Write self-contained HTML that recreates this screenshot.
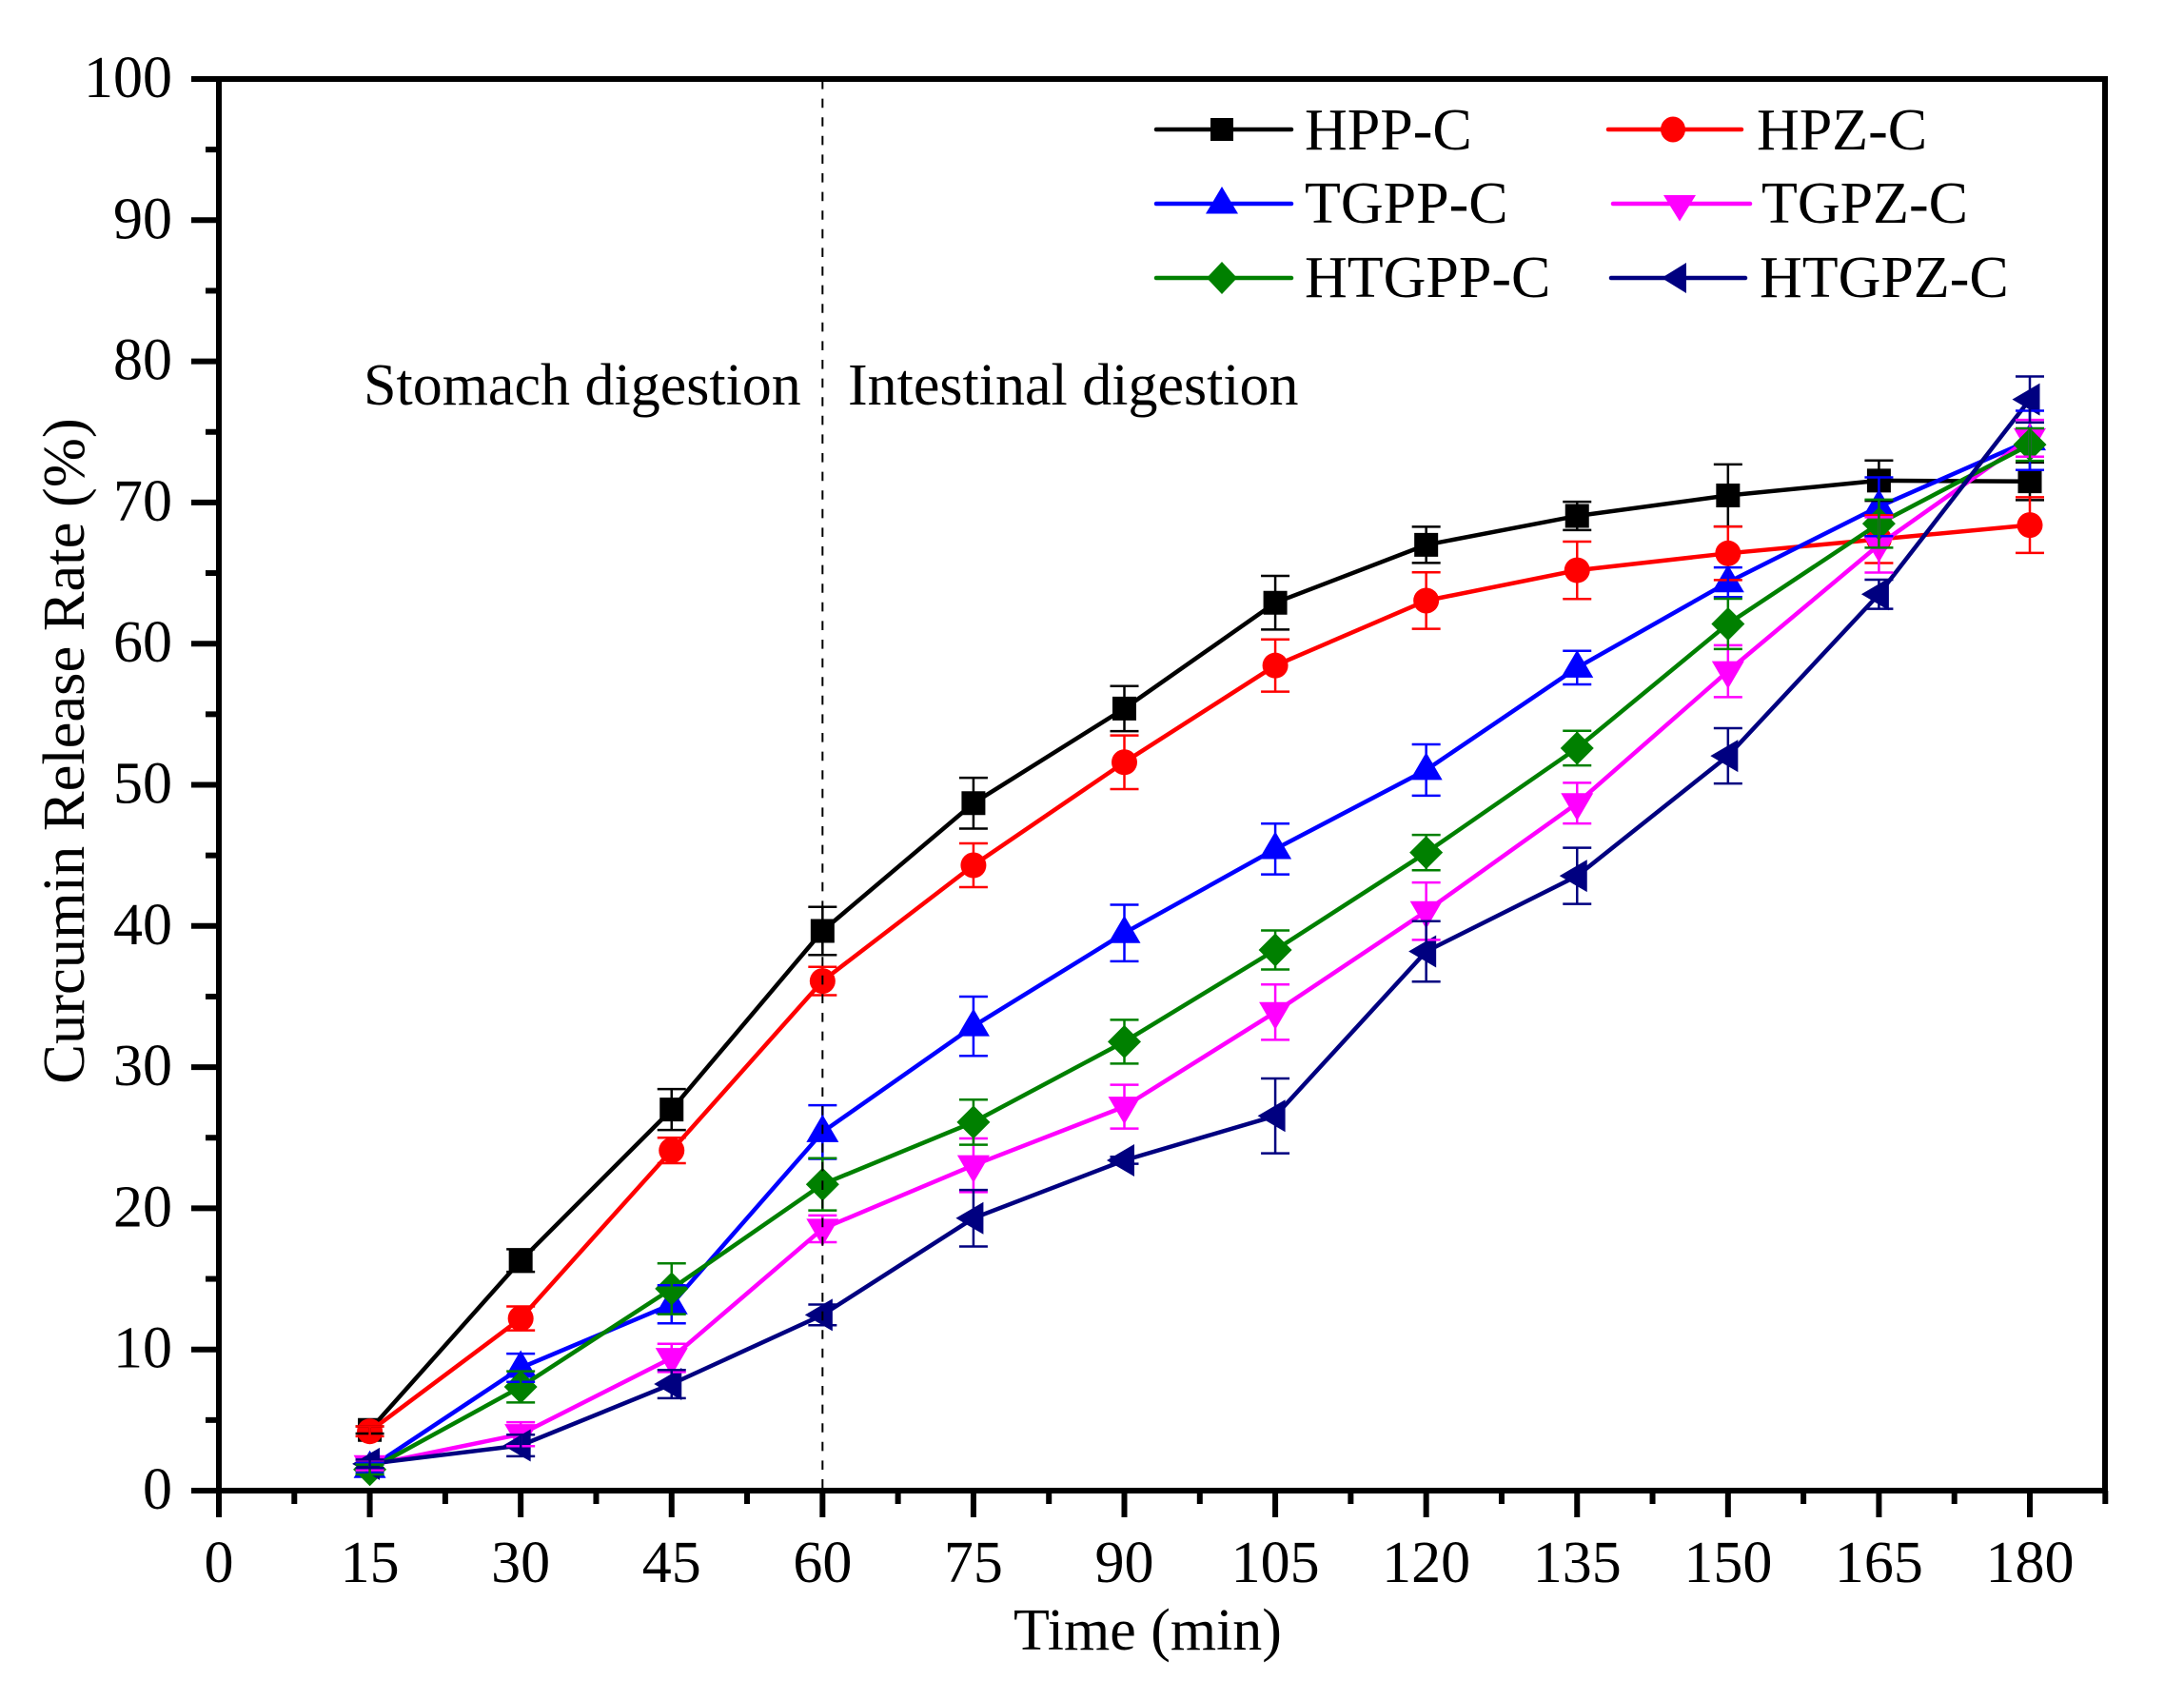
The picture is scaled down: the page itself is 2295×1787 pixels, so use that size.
<!DOCTYPE html>
<html>
<head>
<meta charset="utf-8">
<title>Curcumin Release Rate</title>
<style>
html,body{margin:0;padding:0;background:#fff;}
svg{display:block;}
text{font-family:"Liberation Serif",serif;fill:#000;}
</style>
</head>
<body>
<svg id="chart" xmlns="http://www.w3.org/2000/svg" width="2295" height="1787" viewBox="0 0 2295 1787">
  <rect x="0" y="0" width="2295" height="1787" fill="#fff"/>
  <g id="series-layer"></g>
  <g id="error-layer"></g>
  <g id="axis-layer"></g>

  <text x="382" y="425" font-size="62">Stomach digestion</text>
  <text x="891" y="425" font-size="62">Intestinal digestion</text>
  <text x="1206" y="1733" font-size="62" text-anchor="middle">Time (min)</text>
  <text x="0" y="0" font-size="62.5" text-anchor="middle" transform="translate(88 789) rotate(-90)">Curcumin Release Rate (%)</text>

  <g>
    <g>
      <line x1="1215" y1="136" x2="1357" y2="136" stroke="#000" stroke-width="4.5" stroke-linecap="round"/>
      <rect x="1272" y="124" width="24" height="24" fill="#000"/>
      <text x="1371" y="157" font-size="62">HPP-C</text>
    </g>
    <g>
      <line x1="1690" y1="136" x2="1830" y2="136" stroke="#f00" stroke-width="4.5" stroke-linecap="round"/>
      <ellipse cx="1758" cy="136" rx="13" ry="13.5" fill="#f00"/>
      <text x="1846" y="157" font-size="62">HPZ-C</text>
    </g>
    <g>
      <line x1="1215" y1="214" x2="1357" y2="214" stroke="#00f" stroke-width="4.5" stroke-linecap="round"/>
      <path d="M1284 196L1301 224.500H1267Z" fill="#00f"/>
      <text x="1371" y="234" font-size="62">TGPP-C</text>
    </g>
    <g>
      <line x1="1695" y1="214" x2="1839" y2="214" stroke="#f0f" stroke-width="4.5" stroke-linecap="round"/>
      <path d="M1765 232.500L1748 205H1782Z" fill="#f0f"/>
      <text x="1851" y="234" font-size="62">TGPZ-C</text>
    </g>
    <g>
      <line x1="1215" y1="292" x2="1357" y2="292" stroke="#008000" stroke-width="4.5" stroke-linecap="round"/>
      <path d="M1284 275L1300 292L1284 309L1268 292Z" fill="#008000"/>
      <text x="1371" y="312" font-size="62">HTGPP-C</text>
    </g>
    <g>
      <line x1="1693" y1="292" x2="1834" y2="292" stroke="#000080" stroke-width="4.5" stroke-linecap="round"/>
      <path d="M1746 292L1772 276V308Z" fill="#000080"/>
      <text x="1849" y="312" font-size="62">HTGPZ-C</text>
    </g>
  </g>
</svg>
<script>
// ---- chart data ----
var times = [15, 30, 45, 60, 75, 90, 105, 120, 135, 150, 165, 180];
var hppValues   = [4.3, 16.3, 27.0, 39.65, 48.7, 55.4, 62.9, 67.0, 69.05, 70.5, 71.55, 71.5];
var hppErrors   = [0.25, 0.8, 1.45, 1.7, 1.8, 1.6, 1.9, 1.28, 1.0, 2.2, 1.43, 1.33];
var hpzValues   = [4.2, 12.2, 24.1, 36.1, 44.3, 51.6, 58.45, 63.05, 65.2, 66.4, 67.4, 68.4];
var hpzErrors   = [0.35, 0.85, 0.9, 1.0, 1.55, 1.9, 1.85, 2.0, 2.03, 1.89, 1.69, 1.97];
var tgppValues  = [1.6, 8.7, 13.2, 25.4, 32.9, 39.5, 45.45, 51.05, 58.3, 64.35, 69.7, 74.4];
var tgppErrors  = [0.35, 1.0, 1.35, 1.9, 2.1, 2.0, 1.8, 1.82, 1.19, 1.05, 2.08, 2.1];
var tgpzValues  = [1.8, 4.0, 9.4, 18.55, 23.05, 27.2, 33.9, 41.05, 48.7, 58.05, 67.0, 74.55];
var tgpzErrors  = [0.35, 0.85, 1.0, 0.95, 1.9, 1.55, 1.96, 2.03, 1.44, 1.84, 1.96, 1.3];
var htgppValues = [1.5, 7.35, 14.3, 21.7, 26.1, 31.8, 38.3, 45.2, 52.6, 61.4, 68.5, 74.1];
var htgppErrors = [0.35, 1.1, 1.8, 1.85, 1.6, 1.55, 1.38, 1.25, 1.23, 1.78, 1.7, 1.15];
var htgpzValues = [1.9, 3.2, 7.55, 12.45, 19.3, 23.4, 26.55, 38.2, 43.55, 52.05, 63.5, 77.3];
var htgpzErrors = [0.3, 0.76, 1.0, 0.73, 2.0, 0.25, 2.65, 2.14, 1.99, 1.96, 1.03, 1.63];

var xMajorTicks = [0, 15, 30, 45, 60, 75, 90, 105, 120, 135, 150, 165, 180];
var xMinorTicks = [7.5, 22.5, 37.5, 52.5, 67.5, 82.5, 97.5, 112.5, 127.5, 142.5, 157.5, 172.5, 187.5];
var yMajorTicks = [0, 10, 20, 30, 40, 50, 60, 70, 80, 90, 100];
var yMinorTicks = [5, 15, 25, 35, 45, 55, 65, 75, 85, 95];
var dividerTime = [60];

// ---- axis functions ----
var PLOT_LEFT = 230, PLOT_RIGHT = 2212, PLOT_TOP = 83, PLOT_BOTTOM = 1566;
function xs(v) { return PLOT_LEFT + v * (2133 - PLOT_LEFT) / 180; }
function ys(v) { return PLOT_BOTTOM - v * (PLOT_BOTTOM - PLOT_TOP) / 100; }

var NS = 'http://www.w3.org/2000/svg';
function make(tag, attrs, parent) {
  var el = document.createElementNS(NS, tag);
  for (var k in attrs) { el.setAttribute(k, attrs[k]); }
  parent.appendChild(el);
  return el;
}

function markerPath(shape, cx, cy) {
  if (shape === 'square') {
    return 'M' + (cx - 12.5) + ' ' + (cy - 12.5) + 'h25v25h-25Z';
  }
  if (shape === 'circle') {
    return 'M' + (cx - 13.5) + ' ' + cy + 'a13.5 13.5 0 1 0 27 0a13.5 13.5 0 1 0 -27 0Z';
  }
  if (shape === 'up') {
    return 'M' + cx + ' ' + (cy - 18.5) + 'L' + (cx + 17) + ' ' + (cy + 10.5) + 'H' + (cx - 17) + 'Z';
  }
  if (shape === 'down') {
    return 'M' + cx + ' ' + (cy + 18.5) + 'L' + (cx + 17) + ' ' + (cy - 10.5) + 'H' + (cx - 17) + 'Z';
  }
  if (shape === 'diamond') {
    return 'M' + cx + ' ' + (cy - 17.5) + 'L' + (cx + 17.5) + ' ' + cy + 'L' + cx + ' ' + (cy + 17.5) + 'L' + (cx - 17.5) + ' ' + cy + 'Z';
  }
  return 'M' + (cx - 18.5) + ' ' + cy + 'L' + (cx + 10.5) + ' ' + (cy - 17) + 'V' + (cy + 17) + 'Z';
}

var seriesList = [
  { id: 'hpp-c',   color: '#000000', shape: 'square',  values: hppValues,   errors: hppErrors },
  { id: 'hpz-c',   color: '#ff0000', shape: 'circle',  values: hpzValues,   errors: hpzErrors },
  { id: 'tgpp-c',  color: '#0000ff', shape: 'up',      values: tgppValues,  errors: tgppErrors },
  { id: 'tgpz-c',  color: '#ff00ff', shape: 'down',    values: tgpzValues,  errors: tgpzErrors },
  { id: 'htgpp-c', color: '#008000', shape: 'diamond', values: htgppValues, errors: htgppErrors },
  { id: 'htgpz-c', color: '#000080', shape: 'left',    values: htgpzValues, errors: htgpzErrors }
];

var seriesLayer = document.getElementById('series-layer');
var errorLayer = document.getElementById('error-layer');
var axisLayer = document.getElementById('axis-layer');

// series lines and markers
seriesList.forEach(function (s) {
  var group = make('g', {}, seriesLayer);
  
  
  var pts = times.map(function (t, i) { return xs(t).toFixed(1) + ',' + ys(s.values[i]).toFixed(1); }).join(' ');
  var line = make('polyline', { points: pts, fill: 'none', stroke: s.color, 'stroke-width': 4.5, 'stroke-linejoin': 'round' }, group);
  
  
  times.forEach(function (t, i) {
    var m = make('path', { d: markerPath(s.shape, xs(t), ys(s.values[i])), fill: s.color }, group);
    
    
  });
});

// error bars
seriesList.forEach(function (s) {
  var group = make('g', { stroke: s.color, fill: 'none' }, errorLayer);
  
  
  times.forEach(function (t, i) {
    var x = xs(t), hi = ys(s.values[i] + s.errors[i]), lo = ys(s.values[i] - s.errors[i]);
    var e = make('path', { d: 'M' + (x - 15) + ' ' + hi + 'H' + (x + 15) + 'M' + x + ' ' + hi + 'V' + lo + 'M' + (x - 15) + ' ' + lo + 'H' + (x + 15), 'stroke-width': 2.5 }, group);
    
    
  });
});

// divider
dividerTime.forEach(function (t) {
  var d = make('line', { x1: xs(t), x2: xs(t), y1: PLOT_TOP, y2: PLOT_BOTTOM, stroke: '#000', 'stroke-width': 2, 'stroke-dasharray': '9.6 10', 'stroke-dashoffset': 18.6 }, axisLayer);
  
  
});

// frame
var frame = make('path', { d: 'M' + PLOT_LEFT + ' ' + PLOT_TOP + 'H' + PLOT_RIGHT + 'V' + PLOT_BOTTOM + 'H' + PLOT_LEFT + 'Z', fill: 'none', stroke: '#000', 'stroke-width': 6, 'stroke-linejoin': 'miter' }, axisLayer);



// x ticks
xMajorTicks.forEach(function (t) {
  var tick = make('line', { x1: xs(t), x2: xs(t), y1: PLOT_BOTTOM, y2: 1594, stroke: '#000', 'stroke-width': 6 }, axisLayer);
  
  
  var label = make('text', { x: xs(t), y: 1662, 'font-size': 62, 'text-anchor': 'middle' }, axisLayer);
  label.textContent = String(t);
  
  
});
xMinorTicks.forEach(function (t) {
  var tick = make('line', { x1: xs(t), x2: xs(t), y1: PLOT_BOTTOM, y2: 1580, stroke: '#000', 'stroke-width': 6 }, axisLayer);
  
  
});

// y ticks
yMajorTicks.forEach(function (v) {
  var tick = make('line', { x1: 201, x2: PLOT_LEFT, y1: ys(v), y2: ys(v), stroke: '#000', 'stroke-width': 6 }, axisLayer);
  
  
  var label = make('text', { x: 181, y: ys(v) + 19, 'font-size': 62, 'text-anchor': 'end' }, axisLayer);
  label.textContent = String(v);
  
  
});
yMinorTicks.forEach(function (v) {
  var tick = make('line', { x1: 216, x2: PLOT_LEFT, y1: ys(v), y2: ys(v), stroke: '#000', 'stroke-width': 6 }, axisLayer);
  
  
});
</script>
</body>
</html>
